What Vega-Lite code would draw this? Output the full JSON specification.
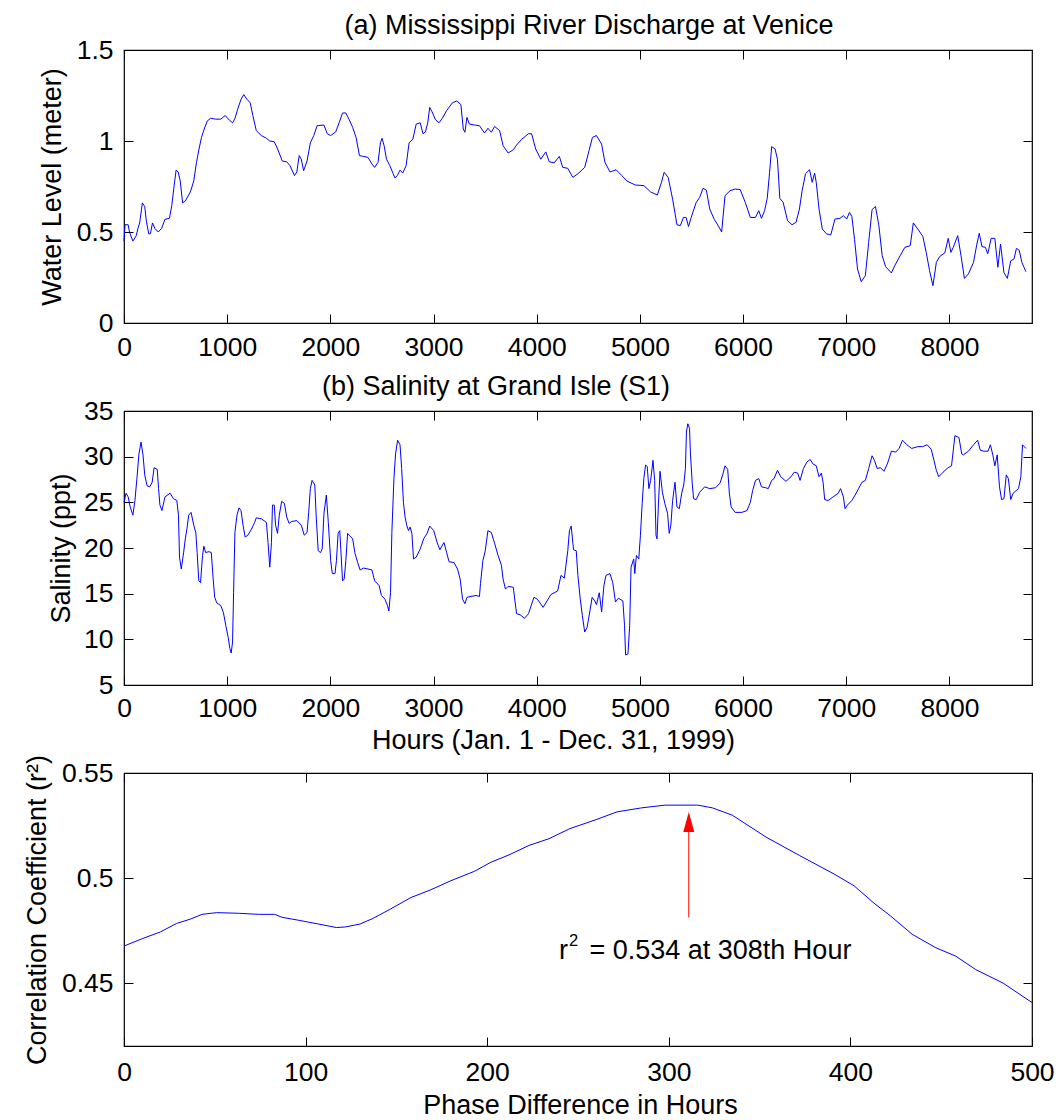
{
  "$schema": "https://vega.github.io/schema/vega-lite/v6.json",
  "autosize": {"type": "pad"},
  "padding": {"left": 22, "top": 11, "right": 5, "bottom": 5},
  "background": "#ffffff",
  "spacing": 88,
  "bounds": "flush",
  "config": {
    "font": "Liberation Sans",
    "view": {"stroke": "#000000", "strokeWidth": 1.2},
    "axis": {
      "domain": false, "grid": false, "tickSize": -9, "tickColor": "#000000", "tickWidth": 1,
      "labelFont": "Liberation Sans", "labelFontSize": 26.5, "labelColor": "#000000",
      "titleFont": "Liberation Sans", "titleFontSize": 27, "titleFontWeight": "normal", "titleColor": "#000000",
      "labelFlush": false, "labelOverlap": false, "labelBound": false
    },
    "title": {"font": "Liberation Sans", "fontSize": 27, "fontWeight": "normal", "color": "#000000", "frame": "group", "anchor": "middle", "baseline": "alphabetic"}
  },
  "datasets": {
    "wl": [
      {"h":0,"v":0.45},{"h":10,"v":0.54},{"h":40,"v":0.54},{"h":53,"v":0.50},{"h":86,"v":0.45},{"h":119,"v":0.48},{"h":135,"v":0.52},{"h":152,"v":0.55},{"h":178,"v":0.66},{"h":201,"v":0.64},{"h":217,"v":0.56},{"h":240,"v":0.49},{"h":256,"v":0.49},{"h":276,"v":0.55},{"h":299,"v":0.52},{"h":332,"v":0.50},{"h":365,"v":0.52},{"h":397,"v":0.57},{"h":440,"v":0.575},{"h":463,"v":0.645},{"h":486,"v":0.755},{"h":505,"v":0.84},{"h":525,"v":0.83},{"h":545,"v":0.78},{"h":568,"v":0.66},{"h":594,"v":0.67},{"h":643,"v":0.72},{"h":676,"v":0.78},{"h":702,"v":0.88},{"h":725,"v":0.95},{"h":751,"v":1.02},{"h":774,"v":1.06},{"h":807,"v":1.11},{"h":840,"v":1.125},{"h":889,"v":1.12},{"h":938,"v":1.12},{"h":981,"v":1.14},{"h":1020,"v":1.115},{"h":1053,"v":1.10},{"h":1076,"v":1.125},{"h":1102,"v":1.175},{"h":1135,"v":1.23},{"h":1161,"v":1.255},{"h":1190,"v":1.23},{"h":1223,"v":1.21},{"h":1249,"v":1.14},{"h":1282,"v":1.057},{"h":1331,"v":1.03},{"h":1380,"v":1.015},{"h":1413,"v":1.00},{"h":1456,"v":0.996},{"h":1489,"v":0.956},{"h":1534,"v":0.89},{"h":1577,"v":0.886},{"h":1610,"v":0.864},{"h":1652,"v":0.81},{"h":1675,"v":0.83},{"h":1698,"v":0.92},{"h":1718,"v":0.90},{"h":1741,"v":0.837},{"h":1774,"v":0.89},{"h":1806,"v":0.99},{"h":1839,"v":1.03},{"h":1872,"v":1.084},{"h":1937,"v":1.088},{"h":1970,"v":1.04},{"h":2003,"v":1.03},{"h":2052,"v":1.05},{"h":2085,"v":1.10},{"h":2118,"v":1.154},{"h":2150,"v":1.154},{"h":2183,"v":1.117},{"h":2216,"v":1.075},{"h":2249,"v":1.02},{"h":2282,"v":0.92},{"h":2314,"v":0.916},{"h":2364,"v":0.91},{"h":2403,"v":0.874},{"h":2429,"v":0.855},{"h":2462,"v":0.883},{"h":2485,"v":0.99},{"h":2501,"v":1.015},{"h":2521,"v":0.974},{"h":2544,"v":0.90},{"h":2577,"v":0.864},{"h":2609,"v":0.82},{"h":2626,"v":0.797},{"h":2649,"v":0.81},{"h":2675,"v":0.84},{"h":2701,"v":0.824},{"h":2734,"v":0.864},{"h":2763,"v":0.99},{"h":2799,"v":1.01},{"h":2832,"v":1.093},{"h":2871,"v":1.10},{"h":2898,"v":1.04},{"h":2921,"v":1.05},{"h":2944,"v":1.10},{"h":2963,"v":1.185},{"h":2986,"v":1.16},{"h":3019,"v":1.117},{"h":3052,"v":1.10},{"h":3085,"v":1.125},{"h":3127,"v":1.167},{"h":3183,"v":1.21},{"h":3225,"v":1.22},{"h":3265,"v":1.20},{"h":3288,"v":1.066},{"h":3304,"v":1.048},{"h":3324,"v":1.13},{"h":3347,"v":1.093},{"h":3396,"v":1.088},{"h":3445,"v":1.084},{"h":3494,"v":1.044},{"h":3527,"v":1.07},{"h":3560,"v":1.048},{"h":3592,"v":1.08},{"h":3641,"v":1.057},{"h":3674,"v":0.974},{"h":3723,"v":0.934},{"h":3773,"v":0.952},{"h":3805,"v":0.978},{"h":3855,"v":1.01},{"h":3920,"v":1.04},{"h":3950,"v":1.04},{"h":3990,"v":0.956},{"h":4039,"v":0.90},{"h":4088,"v":0.94},{"h":4121,"v":0.886},{"h":4170,"v":0.88},{"h":4219,"v":0.916},{"h":4252,"v":0.855},{"h":4301,"v":0.85},{"h":4350,"v":0.80},{"h":4399,"v":0.82},{"h":4465,"v":0.855},{"h":4507,"v":0.947},{"h":4540,"v":1.02},{"h":4579,"v":1.03},{"h":4629,"v":0.983},{"h":4661,"v":0.883},{"h":4710,"v":0.83},{"h":4769,"v":0.842},{"h":4825,"v":0.81},{"h":4874,"v":0.78},{"h":4956,"v":0.758},{"h":5038,"v":0.755},{"h":5104,"v":0.72},{"h":5169,"v":0.703},{"h":5209,"v":0.773},{"h":5235,"v":0.828},{"h":5274,"v":0.80},{"h":5317,"v":0.68},{"h":5359,"v":0.54},{"h":5392,"v":0.535},{"h":5422,"v":0.58},{"h":5448,"v":0.58},{"h":5471,"v":0.53},{"h":5497,"v":0.58},{"h":5546,"v":0.663},{"h":5579,"v":0.69},{"h":5612,"v":0.74},{"h":5644,"v":0.73},{"h":5677,"v":0.626},{"h":5720,"v":0.57},{"h":5759,"v":0.535},{"h":5792,"v":0.50},{"h":5825,"v":0.70},{"h":5874,"v":0.727},{"h":5923,"v":0.736},{"h":5972,"v":0.733},{"h":6021,"v":0.663},{"h":6070,"v":0.58},{"h":6120,"v":0.58},{"h":6152,"v":0.617},{"h":6178,"v":0.575},{"h":6208,"v":0.617},{"h":6234,"v":0.685},{"h":6257,"v":0.828},{"h":6277,"v":0.969},{"h":6310,"v":0.956},{"h":6333,"v":0.90},{"h":6356,"v":0.685},{"h":6388,"v":0.663},{"h":6431,"v":0.562},{"h":6474,"v":0.54},{"h":6513,"v":0.553},{"h":6546,"v":0.626},{"h":6572,"v":0.727},{"h":6605,"v":0.82},{"h":6644,"v":0.842},{"h":6670,"v":0.773},{"h":6693,"v":0.824},{"h":6709,"v":0.773},{"h":6736,"v":0.626},{"h":6768,"v":0.516},{"h":6808,"v":0.49},{"h":6850,"v":0.484},{"h":6890,"v":0.571},{"h":6939,"v":0.575},{"h":6972,"v":0.59},{"h":7004,"v":0.571},{"h":7031,"v":0.608},{"h":7054,"v":0.586},{"h":7080,"v":0.46},{"h":7109,"v":0.297},{"h":7145,"v":0.227},{"h":7185,"v":0.26},{"h":7217,"v":0.443},{"h":7250,"v":0.623},{"h":7283,"v":0.64},{"h":7316,"v":0.535},{"h":7348,"v":0.37},{"h":7381,"v":0.31},{"h":7437,"v":0.275},{"h":7470,"v":0.315},{"h":7522,"v":0.37},{"h":7568,"v":0.416},{"h":7620,"v":0.425},{"h":7650,"v":0.55},{"h":7693,"v":0.516},{"h":7742,"v":0.476},{"h":7775,"v":0.388},{"h":7807,"v":0.288},{"h":7840,"v":0.205},{"h":7873,"v":0.333},{"h":7906,"v":0.366},{"h":7955,"v":0.385},{"h":7988,"v":0.465},{"h":8014,"v":0.388},{"h":8037,"v":0.416},{"h":8080,"v":0.48},{"h":8112,"v":0.37},{"h":8145,"v":0.245},{"h":8184,"v":0.27},{"h":8233,"v":0.333},{"h":8266,"v":0.434},{"h":8289,"v":0.493},{"h":8315,"v":0.42},{"h":8348,"v":0.416},{"h":8371,"v":0.38},{"h":8404,"v":0.465},{"h":8440,"v":0.465},{"h":8469,"v":0.306},{"h":8495,"v":0.434},{"h":8528,"v":0.278},{"h":8561,"v":0.245},{"h":8594,"v":0.342},{"h":8626,"v":0.352},{"h":8649,"v":0.41},{"h":8676,"v":0.40},{"h":8702,"v":0.333},{"h":8741,"v":0.282}
    ],
    "sal": [
      {"h":0,"v":25.0},{"h":20,"v":26.0},{"h":40,"v":25.6},{"h":60,"v":24.5},{"h":86,"v":23.6},{"h":106,"v":25.2},{"h":125,"v":27.6},{"h":145,"v":30.3},{"h":165,"v":31.6},{"h":184,"v":30.2},{"h":201,"v":28.0},{"h":224,"v":26.8},{"h":250,"v":26.7},{"h":273,"v":27.2},{"h":292,"v":28.8},{"h":322,"v":28.6},{"h":335,"v":26.5},{"h":348,"v":24.7},{"h":368,"v":24.1},{"h":397,"v":25.6},{"h":447,"v":26.0},{"h":479,"v":25.4},{"h":512,"v":25.2},{"h":528,"v":23.6},{"h":538,"v":19.0},{"h":555,"v":17.7},{"h":578,"v":19.5},{"h":594,"v":21.0},{"h":610,"v":22.1},{"h":627,"v":23.6},{"h":650,"v":23.9},{"h":676,"v":22.5},{"h":696,"v":21.7},{"h":709,"v":19.5},{"h":725,"v":16.4},{"h":742,"v":16.2},{"h":761,"v":19.2},{"h":774,"v":20.2},{"h":791,"v":19.5},{"h":823,"v":19.6},{"h":846,"v":19.5},{"h":863,"v":16.8},{"h":879,"v":14.6},{"h":899,"v":14.0},{"h":938,"v":13.7},{"h":964,"v":12.9},{"h":987,"v":11.5},{"h":1010,"v":10.2},{"h":1026,"v":9.0},{"h":1039,"v":8.5},{"h":1052,"v":9.7},{"h":1062,"v":15.1},{"h":1075,"v":21.7},{"h":1095,"v":23.6},{"h":1115,"v":24.4},{"h":1134,"v":24.1},{"h":1154,"v":22.5},{"h":1174,"v":21.2},{"h":1200,"v":21.4},{"h":1233,"v":22.0},{"h":1266,"v":22.8},{"h":1282,"v":23.3},{"h":1331,"v":23.2},{"h":1380,"v":22.8},{"h":1396,"v":20.6},{"h":1413,"v":17.9},{"h":1429,"v":20.6},{"h":1439,"v":24.7},{"h":1456,"v":24.7},{"h":1469,"v":22.5},{"h":1488,"v":21.6},{"h":1505,"v":23.6},{"h":1528,"v":25.1},{"h":1554,"v":24.9},{"h":1577,"v":23.4},{"h":1600,"v":22.7},{"h":1626,"v":22.9},{"h":1675,"v":23.0},{"h":1718,"v":22.5},{"h":1747,"v":21.4},{"h":1774,"v":21.7},{"h":1790,"v":23.9},{"h":1806,"v":26.5},{"h":1823,"v":27.4},{"h":1849,"v":26.9},{"h":1862,"v":23.6},{"h":1882,"v":19.7},{"h":1905,"v":19.5},{"h":1921,"v":19.9},{"h":1938,"v":23.8},{"h":1961,"v":25.8},{"h":1980,"v":22.8},{"h":2003,"v":18.6},{"h":2019,"v":17.2},{"h":2045,"v":17.2},{"h":2059,"v":18.6},{"h":2075,"v":21.6},{"h":2091,"v":21.9},{"h":2101,"v":19.9},{"h":2118,"v":16.4},{"h":2134,"v":16.6},{"h":2150,"v":18.6},{"h":2167,"v":21.6},{"h":2183,"v":21.4},{"h":2216,"v":21.0},{"h":2239,"v":19.4},{"h":2265,"v":18.4},{"h":2288,"v":17.6},{"h":2321,"v":17.8},{"h":2364,"v":17.7},{"h":2403,"v":17.6},{"h":2429,"v":16.4},{"h":2472,"v":15.9},{"h":2495,"v":14.8},{"h":2528,"v":14.4},{"h":2554,"v":13.7},{"h":2567,"v":13.1},{"h":2583,"v":15.1},{"h":2596,"v":21.7},{"h":2616,"v":27.6},{"h":2632,"v":30.3},{"h":2652,"v":31.8},{"h":2675,"v":31.3},{"h":2691,"v":28.7},{"h":2708,"v":25.0},{"h":2724,"v":23.4},{"h":2740,"v":22.5},{"h":2757,"v":21.9},{"h":2773,"v":22.3},{"h":2790,"v":21.6},{"h":2806,"v":18.8},{"h":2832,"v":19.0},{"h":2871,"v":19.9},{"h":2904,"v":21.0},{"h":2937,"v":21.6},{"h":2963,"v":22.4},{"h":3002,"v":21.9},{"h":3035,"v":20.6},{"h":3061,"v":19.8},{"h":3101,"v":20.6},{"h":3127,"v":19.5},{"h":3150,"v":18.5},{"h":3199,"v":18.4},{"h":3232,"v":17.7},{"h":3258,"v":16.6},{"h":3281,"v":14.4},{"h":3304,"v":13.9},{"h":3324,"v":14.6},{"h":3363,"v":14.7},{"h":3412,"v":14.8},{"h":3445,"v":14.7},{"h":3455,"v":16.1},{"h":3478,"v":18.6},{"h":3501,"v":19.7},{"h":3527,"v":21.9},{"h":3560,"v":21.7},{"h":3592,"v":20.5},{"h":3625,"v":19.2},{"h":3658,"v":18.1},{"h":3674,"v":16.6},{"h":3697,"v":15.5},{"h":3723,"v":15.8},{"h":3773,"v":15.7},{"h":3789,"v":14.2},{"h":3805,"v":12.8},{"h":3838,"v":12.7},{"h":3881,"v":12.3},{"h":3920,"v":12.8},{"h":3973,"v":14.6},{"h":4006,"v":14.4},{"h":4062,"v":13.5},{"h":4137,"v":14.9},{"h":4203,"v":15.3},{"h":4235,"v":17.0},{"h":4268,"v":16.7},{"h":4301,"v":19.7},{"h":4317,"v":21.9},{"h":4334,"v":22.4},{"h":4357,"v":19.8},{"h":4383,"v":19.7},{"h":4399,"v":17.0},{"h":4422,"v":14.4},{"h":4442,"v":12.6},{"h":4465,"v":10.8},{"h":4488,"v":11.3},{"h":4514,"v":13.0},{"h":4537,"v":14.6},{"h":4563,"v":14.2},{"h":4579,"v":13.8},{"h":4606,"v":15.1},{"h":4629,"v":13.0},{"h":4651,"v":15.9},{"h":4671,"v":17.0},{"h":4710,"v":17.2},{"h":4737,"v":16.2},{"h":4763,"v":14.1},{"h":4792,"v":14.5},{"h":4835,"v":14.2},{"h":4851,"v":11.5},{"h":4861,"v":8.3},{"h":4884,"v":8.4},{"h":4901,"v":11.5},{"h":4914,"v":17.9},{"h":4940,"v":18.8},{"h":4950,"v":17.2},{"h":4966,"v":19.2},{"h":4989,"v":18.8},{"h":5005,"v":21.4},{"h":5022,"v":24.9},{"h":5038,"v":27.6},{"h":5055,"v":29.1},{"h":5071,"v":28.9},{"h":5087,"v":26.5},{"h":5104,"v":27.4},{"h":5127,"v":29.6},{"h":5143,"v":27.4},{"h":5156,"v":21.4},{"h":5166,"v":21.0},{"h":5179,"v":24.7},{"h":5195,"v":28.4},{"h":5218,"v":26.1},{"h":5241,"v":24.9},{"h":5268,"v":23.8},{"h":5284,"v":21.6},{"h":5300,"v":22.5},{"h":5317,"v":25.2},{"h":5340,"v":27.2},{"h":5359,"v":24.5},{"h":5382,"v":24.3},{"h":5405,"v":26.0},{"h":5425,"v":26.9},{"h":5441,"v":28.7},{"h":5451,"v":32.7},{"h":5464,"v":33.6},{"h":5481,"v":33.1},{"h":5490,"v":30.3},{"h":5507,"v":27.1},{"h":5520,"v":25.4},{"h":5546,"v":25.3},{"h":5579,"v":26.1},{"h":5628,"v":26.7},{"h":5677,"v":26.5},{"h":5733,"v":26.6},{"h":5776,"v":27.1},{"h":5802,"v":28.0},{"h":5825,"v":29.0},{"h":5851,"v":28.6},{"h":5867,"v":26.0},{"h":5884,"v":24.5},{"h":5923,"v":23.9},{"h":5988,"v":23.9},{"h":6038,"v":24.1},{"h":6070,"v":25.0},{"h":6093,"v":26.3},{"h":6120,"v":27.4},{"h":6152,"v":27.6},{"h":6178,"v":26.7},{"h":6218,"v":26.6},{"h":6244,"v":26.5},{"h":6277,"v":27.4},{"h":6300,"v":27.6},{"h":6333,"v":28.5},{"h":6365,"v":27.8},{"h":6415,"v":27.3},{"h":6464,"v":27.8},{"h":6496,"v":28.3},{"h":6529,"v":28.2},{"h":6552,"v":27.4},{"h":6585,"v":28.7},{"h":6618,"v":29.4},{"h":6650,"v":29.7},{"h":6677,"v":29.2},{"h":6709,"v":29.0},{"h":6736,"v":27.8},{"h":6759,"v":28.2},{"h":6775,"v":27.2},{"h":6791,"v":25.3},{"h":6824,"v":25.2},{"h":6873,"v":25.6},{"h":6922,"v":26.0},{"h":6945,"v":26.5},{"h":6972,"v":25.6},{"h":6988,"v":24.3},{"h":7011,"v":24.7},{"h":7054,"v":25.2},{"h":7086,"v":25.8},{"h":7119,"v":26.5},{"h":7152,"v":27.2},{"h":7185,"v":27.4},{"h":7217,"v":28.7},{"h":7250,"v":30.1},{"h":7273,"v":29.6},{"h":7299,"v":28.7},{"h":7332,"v":28.8},{"h":7365,"v":28.4},{"h":7398,"v":29.2},{"h":7437,"v":30.6},{"h":7479,"v":30.5},{"h":7512,"v":30.9},{"h":7545,"v":31.8},{"h":7588,"v":31.3},{"h":7634,"v":30.9},{"h":7693,"v":31.1},{"h":7742,"v":31.1},{"h":7784,"v":31.3},{"h":7824,"v":30.8},{"h":7850,"v":29.6},{"h":7873,"v":28.5},{"h":7896,"v":27.8},{"h":7938,"v":28.3},{"h":7987,"v":28.8},{"h":8020,"v":29.0},{"h":8037,"v":30.7},{"h":8053,"v":32.3},{"h":8092,"v":32.1},{"h":8119,"v":30.3},{"h":8135,"v":30.2},{"h":8184,"v":30.6},{"h":8233,"v":31.3},{"h":8273,"v":31.8},{"h":8299,"v":30.7},{"h":8332,"v":30.6},{"h":8374,"v":30.6},{"h":8397,"v":31.3},{"h":8420,"v":30.2},{"h":8440,"v":29.0},{"h":8463,"v":30.2},{"h":8485,"v":26.7},{"h":8505,"v":25.3},{"h":8528,"v":25.4},{"h":8551,"v":28.0},{"h":8571,"v":27.6},{"h":8594,"v":25.3},{"h":8617,"v":26.0},{"h":8669,"v":26.5},{"h":8692,"v":27.8},{"h":8708,"v":31.3},{"h":8741,"v":30.9}
    ],
    "cc": [
      {"h":0,"v":0.4676},{"h":10,"v":0.4711},{"h":20,"v":0.4743},{"h":29,"v":0.4784},{"h":36.5,"v":0.4804},{"h":43,"v":0.4827},{"h":51,"v":0.4835},{"h":63,"v":0.4832},{"h":74,"v":0.4827},{"h":83,"v":0.4827},{"h":87,"v":0.4813},{"h":96,"v":0.4799},{"h":107,"v":0.4781},{"h":117,"v":0.4764},{"h":122,"v":0.4767},{"h":130,"v":0.4781},{"h":137,"v":0.4807},{"h":146.5,"v":0.4851},{"h":158,"v":0.4907},{"h":169,"v":0.4944},{"h":180,"v":0.4987},{"h":193,"v":0.5032},{"h":202,"v":0.5075},{"h":212,"v":0.511},{"h":223,"v":0.5155},{"h":234,"v":0.5187},{"h":245.5,"v":0.5235},{"h":260,"v":0.5278},{"h":271.5,"v":0.5315},{"h":285,"v":0.5334},{"h":298,"v":0.5347},{"h":316,"v":0.5347},{"h":324,"v":0.5334},{"h":335,"v":0.5299},{"h":353.5,"v":0.5195},{"h":372,"v":0.5107},{"h":391,"v":0.5019},{"h":402,"v":0.4963},{"h":413,"v":0.488},{"h":422,"v":0.482},{"h":434,"v":0.4732},{"h":447,"v":0.4668},{"h":458,"v":0.4628},{"h":469,"v":0.4564},{"h":484,"v":0.45},{"h":495,"v":0.4436},{"h":500,"v":0.4407}
    ],
    "arrow": [{"h": 311, "y1": 0.4812, "y2": 0.522, "head": 0.5267}],
    "note": [{"h": 239.5, "v": 0.4612, "sup": 0.4676, "hs": 245.1, "hr": 256.3}]
  },
  "vconcat": [
    {
      "width": 908, "height": 273,
      "title": {"text": "(a) Mississippi River Discharge at Venice", "offset": -2.6, "dx": 11},
      "data": {"name": "wl"},
      "layer": [
        {
          "mark": {"type": "line", "color": "#0000ff", "strokeWidth": 1},
          "encoding": {
            "x": {"field": "h", "type": "quantitative", "scale": {"domain": [0, 8800], "nice": false, "zero": false},
                  "axis": {"orient": "bottom", "values": [0,1000,2000,3000,4000,5000,6000,7000,8000], "format": "d", "title": null, "labelPadding": 20}},
            "y": {"field": "v", "type": "quantitative", "scale": {"domain": [0, 1.5], "nice": false},
                  "axis": {"orient": "left", "values": [0, 0.5, 1, 1.5], "format": ".1~f", "title": "Water Level (meter)", "labelPadding": 20, "titleX": -64, "titleY": 136.5, "titleBaseline": "alphabetic", "titleAngle": -90, "titleAlign": "center"}}
          }
        },
        {
          "mark": {"type": "line", "opacity": 0},
          "encoding": {
            "x": {"field": "h", "type": "quantitative", "axis": {"orient": "top", "values": [0,1000,2000,3000,4000,5000,6000,7000,8000], "labels": false, "title": null}},
            "y": {"field": "v", "type": "quantitative", "axis": {"orient": "right", "values": [0, 0.5, 1, 1.5], "labels": false, "title": null}}
          }
        }
      ],
      "resolve": {"axis": {"x": "independent", "y": "independent"}}
    },
    {
      "width": 908, "height": 274,
      "title": {"text": "(b) Salinity at Grand Isle (S1)", "offset": -3.3, "dx": -82},
      "data": {"name": "sal"},
      "layer": [
        {
          "mark": {"type": "line", "color": "#0000ff", "strokeWidth": 1},
          "encoding": {
            "x": {"field": "h", "type": "quantitative", "scale": {"domain": [0, 8800], "nice": false, "zero": false},
                  "axis": {"orient": "bottom", "values": [0,1000,2000,3000,4000,5000,6000,7000,8000], "format": "d", "title": "Hours (Jan. 1 - Dec. 31, 1999)", "labelPadding": 19, "titleX": 429, "titleY": 63, "titleBaseline": "alphabetic", "titleAlign": "center"}},
            "y": {"field": "v", "type": "quantitative", "scale": {"domain": [5, 35], "nice": false, "zero": false},
                  "axis": {"orient": "left", "values": [5,10,15,20,25,30,35], "format": "d", "title": "Salinity (ppt)", "labelPadding": 20, "titleX": -55, "titleY": 137, "titleBaseline": "alphabetic", "titleAngle": -90, "titleAlign": "center"}}
          }
        },
        {
          "mark": {"type": "line", "opacity": 0},
          "encoding": {
            "x": {"field": "h", "type": "quantitative", "axis": {"orient": "top", "values": [0,1000,2000,3000,4000,5000,6000,7000,8000], "labels": false, "title": null}},
            "y": {"field": "v", "type": "quantitative", "axis": {"orient": "right", "values": [5,10,15,20,25,30,35], "labels": false, "title": null}}
          }
        }
      ],
      "resolve": {"axis": {"x": "independent", "y": "independent"}}
    },
    {
      "width": 908, "height": 273,
      "layer": [
        {
          "data": {"name": "cc"},
          "mark": {"type": "line", "color": "#0000ff", "strokeWidth": 1},
          "encoding": {
            "x": {"field": "h", "type": "quantitative", "scale": {"domain": [0, 500], "nice": false, "zero": false},
                  "axis": {"orient": "bottom", "values": [0,100,200,300,400,500], "format": "d", "title": "Phase Difference in Hours", "labelPadding": 22, "titleX": 456, "titleY": 67, "titleBaseline": "alphabetic", "titleAlign": "center"}},
            "y": {"field": "v", "type": "quantitative", "scale": {"domain": [0.42, 0.55], "nice": false, "zero": false},
                  "axis": {"orient": "left", "values": [0.45, 0.5, 0.55], "format": ".2~f", "title": "Correlation Coefficient (r²)", "labelPadding": 20, "titleX": -79, "titleY": 136.5, "titleBaseline": "alphabetic", "titleAngle": -90, "titleAlign": "center"}}
          }
        },
        {
          "data": {"name": "cc"},
          "mark": {"type": "line", "opacity": 0},
          "encoding": {
            "x": {"field": "h", "type": "quantitative", "axis": {"orient": "top", "values": [0,100,200,300,400,500], "labels": false, "title": null}},
            "y": {"field": "v", "type": "quantitative", "axis": {"orient": "right", "values": [0.45, 0.5, 0.55], "labels": false, "title": null}}
          }
        },
        {
          "data": {"name": "arrow"},
          "mark": {"type": "rule", "color": "#ff0000", "strokeWidth": 1},
          "encoding": {
            "x": {"field": "h", "type": "quantitative", "axis": null},
            "y": {"field": "y1", "type": "quantitative", "axis": null},
            "y2": {"field": "y2"}
          }
        },
        {
          "data": {"name": "arrow"},
          "mark": {"type": "point", "shape": "M0,-1L0.55,1L-0.55,1Z", "size": 400, "filled": true, "color": "#ff0000", "opacity": 1, "strokeWidth": 0},
          "encoding": {
            "x": {"field": "h", "type": "quantitative", "axis": null},
            "y": {"field": "head", "type": "quantitative", "axis": null}
          }
        },
        {
          "data": {"name": "note"},
          "mark": {"type": "text", "text": "r", "align": "left", "baseline": "alphabetic", "fontSize": 27, "font": "Liberation Sans", "color": "#000000"},
          "encoding": {
            "x": {"field": "h", "type": "quantitative", "axis": null},
            "y": {"field": "v", "type": "quantitative", "axis": null}
          }
        },
        {
          "data": {"name": "note"},
          "mark": {"type": "text", "text": "2", "align": "left", "baseline": "alphabetic", "fontSize": 16.5, "font": "Liberation Sans", "color": "#000000"},
          "encoding": {
            "x": {"field": "hs", "type": "quantitative", "axis": null},
            "y": {"field": "sup", "type": "quantitative", "axis": null}
          }
        },
        {
          "data": {"name": "note"},
          "mark": {"type": "text", "text": "= 0.534 at 308th Hour", "align": "left", "baseline": "alphabetic", "fontSize": 27, "font": "Liberation Sans", "color": "#000000"},
          "encoding": {
            "x": {"field": "hr", "type": "quantitative", "axis": null},
            "y": {"field": "v", "type": "quantitative", "axis": null}
          }
        }
      ],
      "resolve": {"axis": {"x": "independent", "y": "independent"}}
    }
  ]
}
